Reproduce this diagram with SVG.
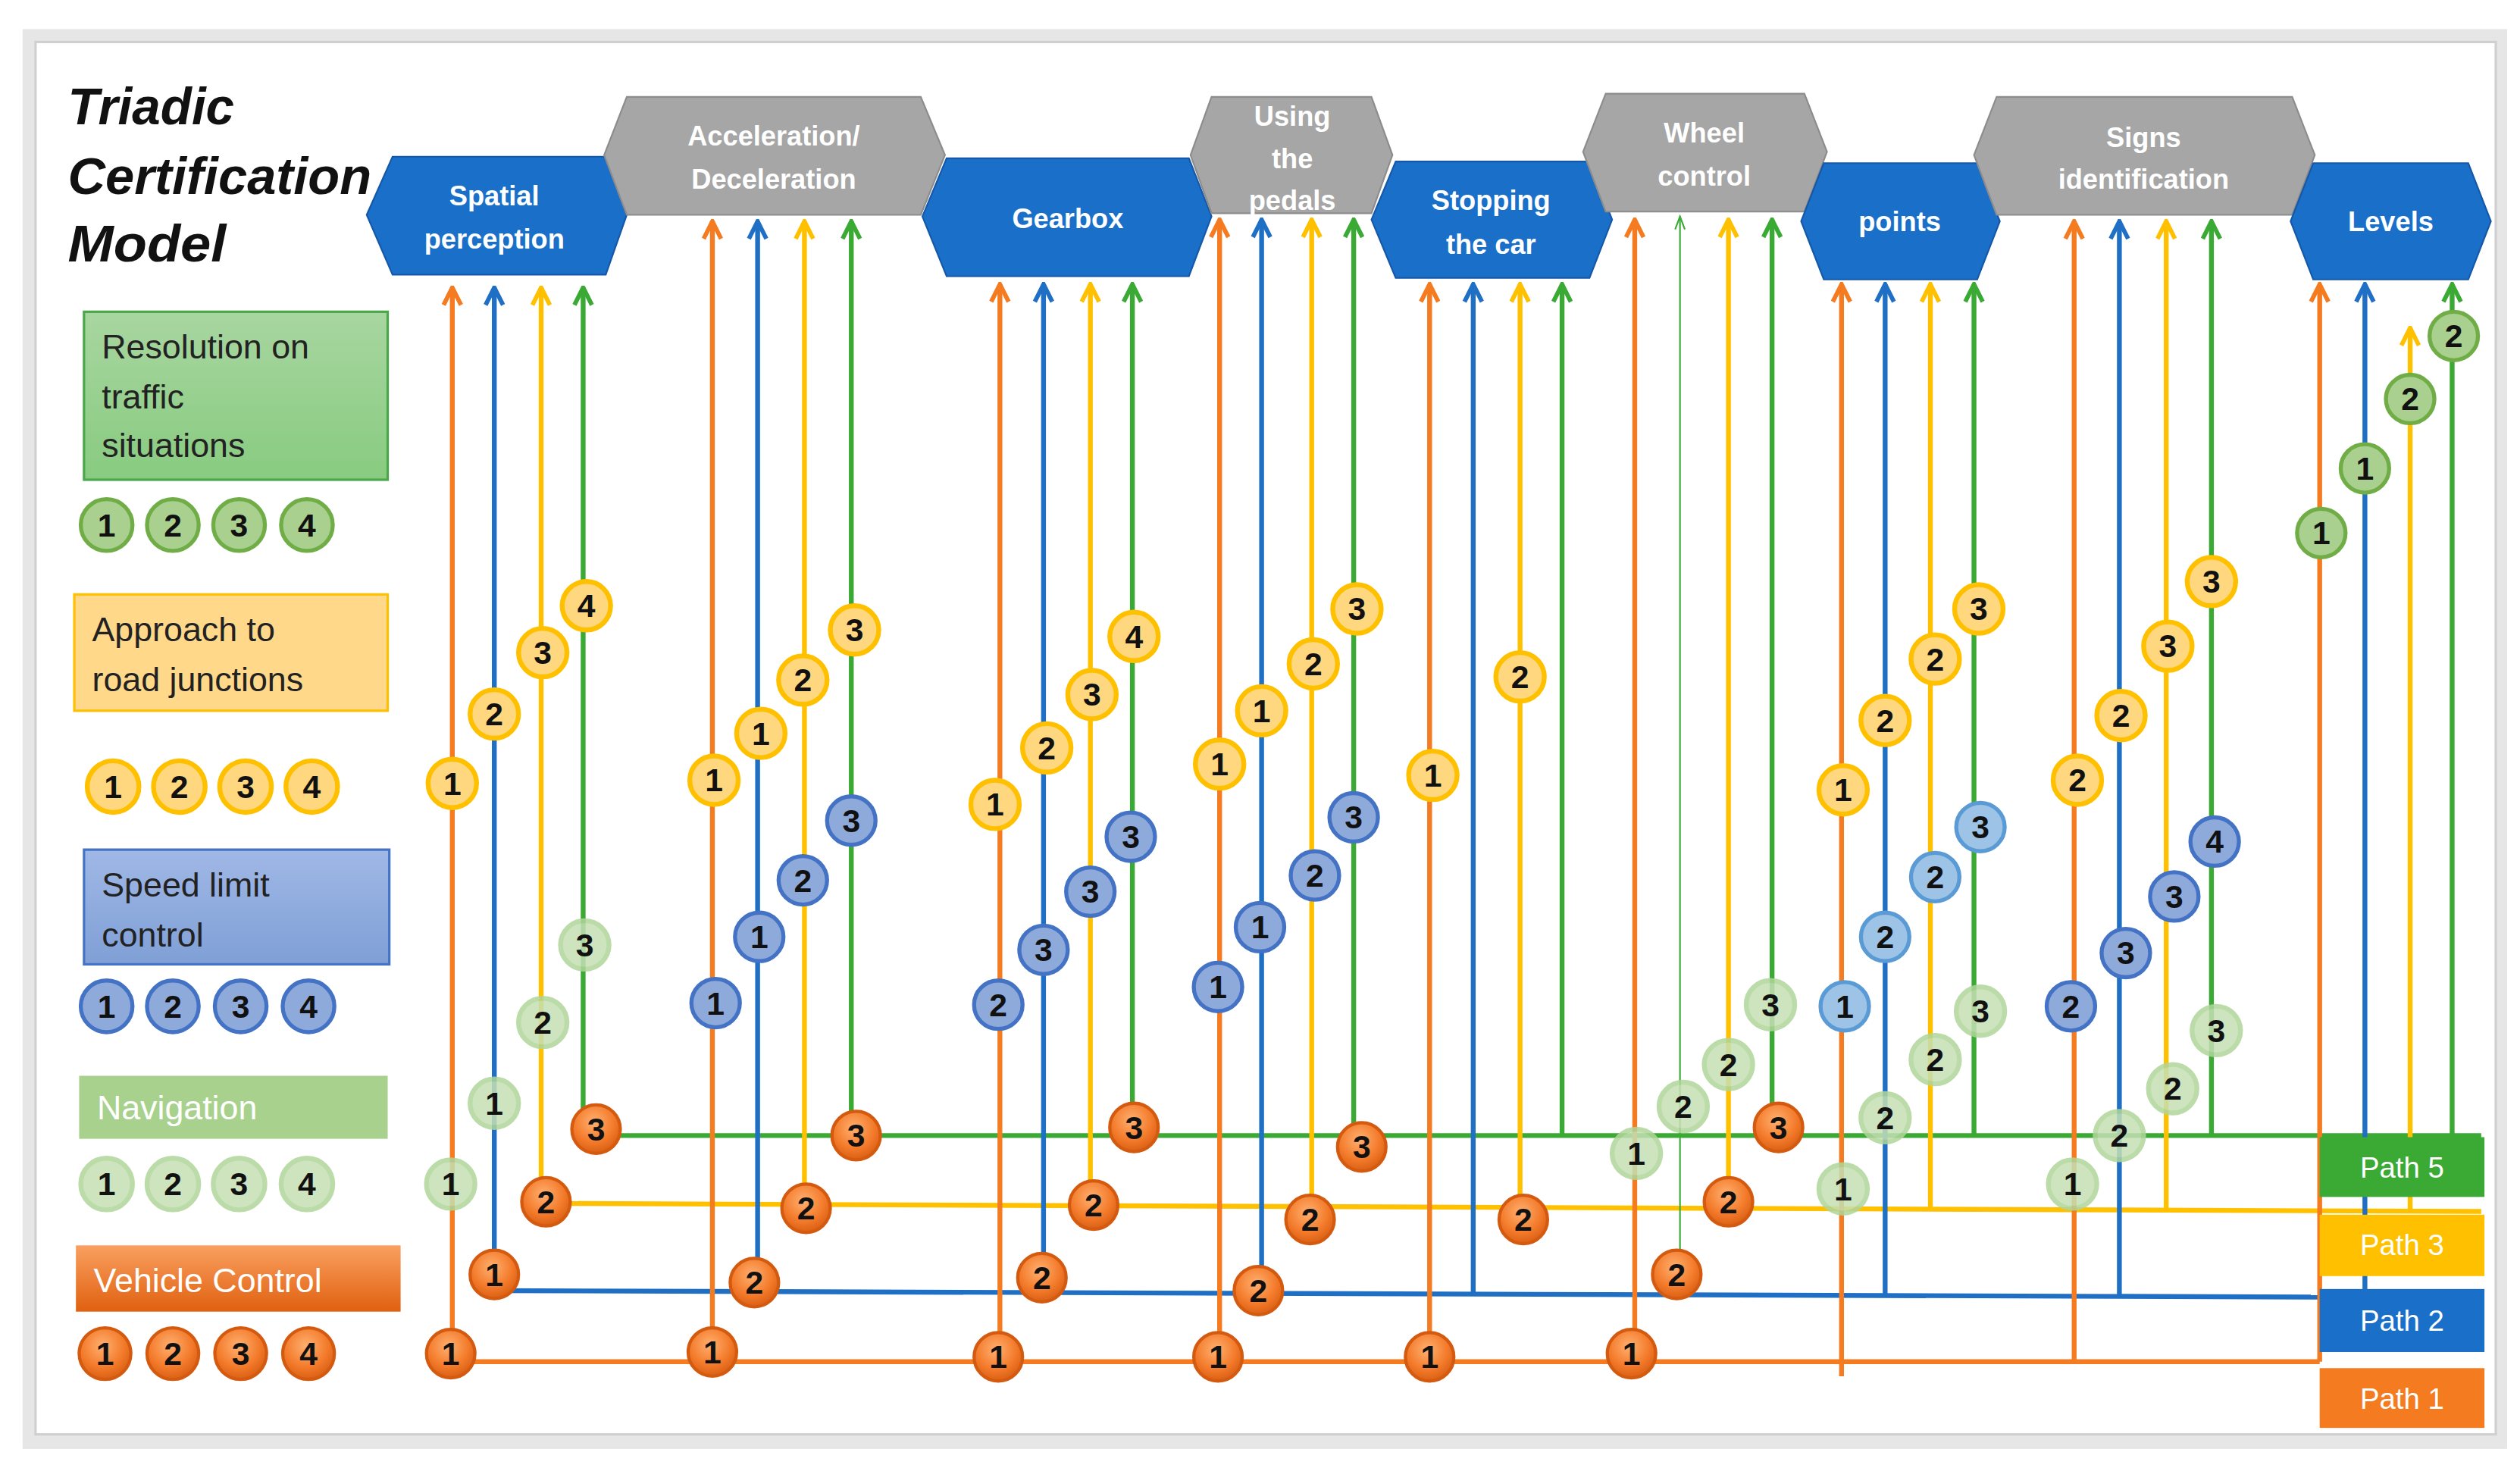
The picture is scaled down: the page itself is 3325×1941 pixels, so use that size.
<svg xmlns="http://www.w3.org/2000/svg" width="3325" height="1941" viewBox="0 0 3325 1941">
<defs>
<style>
.t{font-family:"Liberation Sans",Arial,sans-serif}
.hx{font-family:"Liberation Sans",Arial,sans-serif;font-weight:bold;font-size:17px;fill:#fff;text-anchor:middle}
.lg{font-family:"Liberation Sans",Arial,sans-serif;font-size:21px;fill:#222}
.lw{font-family:"Liberation Sans",Arial,sans-serif;font-size:21px;fill:#fff}
.d{font-family:"Liberation Sans",Arial,sans-serif;font-weight:bold;font-size:20px;fill:#111;text-anchor:middle}
.pt{font-family:"Liberation Sans",Arial,sans-serif;font-size:18px;fill:#fff;text-anchor:middle}
.hb{fill:#1a6fc9;stroke:#1558a8;stroke-width:1}
.hg{fill:#a6a6a6;stroke:#8c8c8c;stroke-width:1}
.o circle{fill:url(#og);stroke:#d45a10;stroke-width:2}
.y circle{fill:#ffd77f;stroke:#ffc000;stroke-width:3}
.b circle{fill:#8eaadb;stroke:#4472c4;stroke-width:2.5}
.lb circle{fill:#9dc3e6;stroke:#5b9bd5;stroke-width:2.5}
.g circle{fill:#a9d08e;stroke:#70ad47;stroke-width:2.5}
.n circle{fill:#c5e0b4;stroke:#b0d69a;stroke-width:3;opacity:0.85}
.co{stroke:#f47b20;stroke-width:3;fill:none}
.cb{stroke:#1f6fc5;stroke-width:3;fill:none}
.cy{stroke:#ffc000;stroke-width:3;fill:none}
.cg{stroke:#3aaa35;stroke-width:3;fill:none}
.ao{marker-end:url(#mo)}.ab{marker-end:url(#mb)}.ay{marker-end:url(#my)}.ag{marker-end:url(#mg)}
</style>
<radialGradient id="og" cx="0.45" cy="0.35" r="0.7"><stop offset="0" stop-color="#ffb070"/><stop offset="0.6" stop-color="#f37a2a"/><stop offset="1" stop-color="#d45a10"/></radialGradient>
<linearGradient id="vg" x1="0" y1="0" x2="0" y2="1"><stop offset="0" stop-color="#f9a060"/><stop offset="1" stop-color="#e0600f"/></linearGradient>
<linearGradient id="rg" x1="0" y1="0" x2="0" y2="1"><stop offset="0" stop-color="#a8d6a0"/><stop offset="1" stop-color="#88cb80"/></linearGradient>
<linearGradient id="sg" x1="0" y1="0" x2="0" y2="1"><stop offset="0" stop-color="#a0b8e6"/><stop offset="1" stop-color="#7f9fd6"/></linearGradient>
<marker id="mo" viewBox="0 0 10 10" refX="9" refY="5" markerWidth="4.5" markerHeight="4.5" orient="auto"><path d="M1,1 L9,5 L1,9" fill="none" stroke="#f47b20" stroke-width="2"/></marker>
<marker id="mb" viewBox="0 0 10 10" refX="9" refY="5" markerWidth="4.5" markerHeight="4.5" orient="auto"><path d="M1,1 L9,5 L1,9" fill="none" stroke="#1f6fc5" stroke-width="2"/></marker>
<marker id="my" viewBox="0 0 10 10" refX="9" refY="5" markerWidth="4.5" markerHeight="4.5" orient="auto"><path d="M1,1 L9,5 L1,9" fill="none" stroke="#ffc000" stroke-width="2"/></marker>
<marker id="mg" viewBox="0 0 10 10" refX="9" refY="5" markerWidth="4.5" markerHeight="4.5" orient="auto"><path d="M1,1 L9,5 L1,9" fill="none" stroke="#3aaa35" stroke-width="2"/></marker>
<marker id="mt" viewBox="0 0 10 10" refX="9" refY="5" markerWidth="10" markerHeight="10" orient="auto"><path d="M1,2 L9,5 L1,8" fill="none" stroke="#3aaa35" stroke-width="1"/></marker>
</defs>
<rect width="3325" height="1941" fill="#fff"/>
<g transform="scale(2.1314)">
<rect x="14" y="18" width="1538" height="879" fill="#e6e6e6"/>
<rect x="22" y="26" width="1523" height="862" fill="#fff" stroke="#d0d0d0" stroke-width="1.5"/>

<g id="title" class="t" font-style="italic" font-weight="bold" font-size="32" fill="#111">
<text x="42" y="77" textLength="103" lengthAdjust="spacingAndGlyphs">Triadic</text>
<text x="42" y="120" textLength="188" lengthAdjust="spacingAndGlyphs">Certification</text>
<text x="42" y="162" textLength="98" lengthAdjust="spacingAndGlyphs">Model</text>
</g>

<g id="legend-resolution"><rect x="52" y="193" width="188" height="104" fill="url(#rg)" stroke="#4aa84a" stroke-width="1.5"/>
<text class="lg" x="63" y="222">Resolution on</text><text class="lg" x="63" y="253">traffic</text><text class="lg" x="63" y="283">situations</text></g>
<g id="legend-junctions"><rect x="46" y="368" width="194" height="72" fill="#ffd88a" stroke="#ffc000" stroke-width="1.5"/>
<text class="lg" x="57" y="397">Approach to</text><text class="lg" x="57" y="428">road junctions</text></g>
<g id="legend-speed"><rect x="52" y="526" width="189" height="71" fill="url(#sg)" stroke="#4472c4" stroke-width="1.5"/>
<text class="lg" x="63" y="555">Speed limit</text><text class="lg" x="63" y="586">control</text></g>
<g id="legend-navigation"><rect x="49" y="666" width="191" height="39" fill="#a9d18e"/>
<text class="lw" x="60" y="693">Navigation</text></g>
<g id="legend-vehicle"><rect x="47" y="771" width="201" height="41" fill="url(#vg)"/>
<text class="lw" x="58" y="800">Vehicle Control</text></g>

<g id="hex-spatial"><polygon class="hb" points="227,133 243,97 375,97 388,133 375,170 243,170"/><text class="hx" x="306" y="127">Spatial</text><text class="hx" x="306" y="154">perception</text></g>
<g id="hex-accel"><polygon class="hg" points="374,96 388,60 570,60 585,96 570,133 388,133"/><text class="hx" x="479" y="90">Acceleration/</text><text class="hx" x="479" y="117">Deceleration</text></g>
<g id="hex-gearbox"><polygon class="hb" points="571,134 586,98 736,98 750,134 736,171 586,171"/><text class="hx" x="661" y="141">Gearbox</text></g>
<g id="hex-pedals"><polygon class="hg" points="737,96 750,60 849,60 862,96 849,132 750,132"/><text class="hx" x="800" y="78">Using</text><text class="hx" x="800" y="104">the</text><text class="hx" x="800" y="130">pedals</text></g>
<g id="hex-stopping"><polygon class="hb" points="849,136 864,100 984,100 998,136 984,172 864,172"/><text class="hx" x="923" y="130">Stopping</text><text class="hx" x="923" y="157">the car</text></g>
<g id="hex-wheel"><polygon class="hg" points="980,94 994,58 1117,58 1131,94 1117,131 994,131"/><text class="hx" x="1055" y="88">Wheel</text><text class="hx" x="1055" y="115">control</text></g>
<g id="hex-points"><polygon class="hb" points="1115,137 1129,101 1224,101 1238,137 1224,173 1129,173"/><text class="hx" x="1176" y="143">points</text></g>
<g id="hex-signs"><polygon class="hg" points="1222,96 1236,60 1419,60 1433,96 1419,133 1236,133"/><text class="hx" x="1327" y="91">Signs</text><text class="hx" x="1327" y="117">identification</text></g>
<g id="hex-levels"><polygon class="hb" points="1418,137 1432,101 1528,101 1542,137 1528,173 1432,173"/><text class="hx" x="1480" y="143">Levels</text></g>

<g id="connectors">
<path class="cg" d="M369,703 L1536,703"/>
<path class="cy" d="M338,745 L1536,750"/>
<path class="cb" d="M306,799 L1436,803"/>
<path class="co" d="M279,843 L1436,843"/>
<path class="co ao" d="M280,843 V178"/><path class="cb ab" d="M306,799 V178"/><path class="cy ay" d="M335,747 V178"/><path class="cg ag" d="M361,703 V178"/>
<path class="co ao" d="M441,843 V137"/><path class="cb ab" d="M469,799 V137"/><path class="cy ay" d="M498,747 V137"/><path class="cg ag" d="M527,703 V137"/>
<path class="co ao" d="M619,843 V176"/><path class="cb ab" d="M646,799 V176"/><path class="cy ay" d="M675,747 V176"/><path class="cg ag" d="M701,703 V176"/>
<path class="co ao" d="M755,843 V136"/><path class="cb ab" d="M781,799 V136"/><path class="cy ay" d="M812,747 V136"/><path class="cg ag" d="M838,703 V136"/>
<path class="co ao" d="M885,843 V176"/><path class="cb ab" d="M912,800 V176"/><path class="cy ay" d="M941,748 V176"/><path class="cg ag" d="M967,703 V176"/>
<path class="co ao" d="M1012,843 V136"/><path d="M1040,775 V134" stroke="#3aaa35" stroke-width="1" fill="none" marker-end="url(#mt)"/><path class="cy ay" d="M1070,748 V136"/><path class="cg ag" d="M1097,703 V136"/>
<path class="co ao" d="M1140,852 V176"/><path class="cb ab" d="M1167,801 V176"/><path class="cy ay" d="M1195,749 V176"/><path class="cg ag" d="M1222,703 V176"/>
<path class="co ao" d="M1284,843 V137"/><path class="cb ab" d="M1312,802 V137"/><path class="cy ay" d="M1341,749 V137"/><path class="cg ag" d="M1369,703 V137"/>
<path class="co ao" d="M1436,843 V176"/><path class="cb ab" d="M1464,803 V176"/><path class="cy ay" d="M1492,750 V203"/><path class="cg ag" d="M1518,703 V176"/>
</g>

<g id="path5"><rect x="1436" y="704" width="102" height="37" fill="#3aaa35"/><text class="pt" x="1487" y="729">Path 5</text></g>
<g id="path3"><rect x="1436" y="752" width="102" height="38" fill="#ffc000"/><text class="pt" x="1487" y="777">Path 3</text></g>
<g id="path2"><rect x="1436" y="798" width="102" height="39" fill="#1a6fc9"/><text class="pt" x="1487" y="824">Path 2</text></g>
<g id="path1"><rect x="1436" y="847" width="102" height="37" fill="#f47b20"/><text class="pt" x="1487" y="872">Path 1</text></g>

<g id="legend-badges">
<g class="g" transform="translate(66,325)"><circle r="16"/><text class="d" y="7">1</text></g>
<g class="g" transform="translate(107,325)"><circle r="16"/><text class="d" y="7">2</text></g>
<g class="g" transform="translate(148,325)"><circle r="16"/><text class="d" y="7">3</text></g>
<g class="g" transform="translate(190,325)"><circle r="16"/><text class="d" y="7">4</text></g>
<g class="y" transform="translate(70,487)"><circle r="16"/><text class="d" y="7">1</text></g>
<g class="y" transform="translate(111,487)"><circle r="16"/><text class="d" y="7">2</text></g>
<g class="y" transform="translate(152,487)"><circle r="16"/><text class="d" y="7">3</text></g>
<g class="y" transform="translate(193,487)"><circle r="16"/><text class="d" y="7">4</text></g>
<g class="b" transform="translate(66,623)"><circle r="16"/><text class="d" y="7">1</text></g>
<g class="b" transform="translate(107,623)"><circle r="16"/><text class="d" y="7">2</text></g>
<g class="b" transform="translate(149,623)"><circle r="16"/><text class="d" y="7">3</text></g>
<g class="b" transform="translate(191,623)"><circle r="16"/><text class="d" y="7">4</text></g>
<g class="n" transform="translate(66,733)"><circle r="16"/><text class="d" y="7">1</text></g>
<g class="n" transform="translate(107,733)"><circle r="16"/><text class="d" y="7">2</text></g>
<g class="n" transform="translate(148,733)"><circle r="16"/><text class="d" y="7">3</text></g>
<g class="n" transform="translate(190,733)"><circle r="16"/><text class="d" y="7">4</text></g>
<g class="o" transform="translate(65,838)"><circle r="16"/><text class="d" y="7">1</text></g>
<g class="o" transform="translate(107,838)"><circle r="16"/><text class="d" y="7">2</text></g>
<g class="o" transform="translate(149,838)"><circle r="16"/><text class="d" y="7">3</text></g>
<g class="o" transform="translate(191,838)"><circle r="16"/><text class="d" y="7">4</text></g>
</g>

<g id="badges">
<g class="o" transform="translate(279,838)"><circle r="15"/><text class="d" y="7">1</text></g>
<g class="o" transform="translate(306,789)"><circle r="15"/><text class="d" y="7">1</text></g>
<g class="o" transform="translate(338,744)"><circle r="15"/><text class="d" y="7">2</text></g>
<g class="o" transform="translate(369,699)"><circle r="15"/><text class="d" y="7">3</text></g>
<g class="y" transform="translate(280,485)"><circle r="15"/><text class="d" y="7">1</text></g>
<g class="y" transform="translate(306,442)"><circle r="15"/><text class="d" y="7">2</text></g>
<g class="y" transform="translate(336,404)"><circle r="15"/><text class="d" y="7">3</text></g>
<g class="y" transform="translate(363,375)"><circle r="15"/><text class="d" y="7">4</text></g>
<g class="n" transform="translate(279,733)"><circle r="15"/><text class="d" y="7">1</text></g>
<g class="n" transform="translate(306,683)"><circle r="15"/><text class="d" y="7">1</text></g>
<g class="n" transform="translate(336,633)"><circle r="15"/><text class="d" y="7">2</text></g>
<g class="n" transform="translate(362,585)"><circle r="15"/><text class="d" y="7">3</text></g>

<g class="o" transform="translate(441,837)"><circle r="15"/><text class="d" y="7">1</text></g>
<g class="o" transform="translate(467,794)"><circle r="15"/><text class="d" y="7">2</text></g>
<g class="o" transform="translate(499,748)"><circle r="15"/><text class="d" y="7">2</text></g>
<g class="o" transform="translate(530,703)"><circle r="15"/><text class="d" y="7">3</text></g>
<g class="y" transform="translate(442,483)"><circle r="15"/><text class="d" y="7">1</text></g>
<g class="y" transform="translate(471,454)"><circle r="15"/><text class="d" y="7">1</text></g>
<g class="y" transform="translate(497,421)"><circle r="15"/><text class="d" y="7">2</text></g>
<g class="y" transform="translate(529,390)"><circle r="15"/><text class="d" y="7">3</text></g>
<g class="b" transform="translate(443,621)"><circle r="15"/><text class="d" y="7">1</text></g>
<g class="b" transform="translate(470,580)"><circle r="15"/><text class="d" y="7">1</text></g>
<g class="b" transform="translate(497,545)"><circle r="15"/><text class="d" y="7">2</text></g>
<g class="b" transform="translate(527,508)"><circle r="15"/><text class="d" y="7">3</text></g>

<g class="o" transform="translate(618,840)"><circle r="15"/><text class="d" y="7">1</text></g>
<g class="o" transform="translate(645,791)"><circle r="15"/><text class="d" y="7">2</text></g>
<g class="o" transform="translate(677,746)"><circle r="15"/><text class="d" y="7">2</text></g>
<g class="o" transform="translate(702,698)"><circle r="15"/><text class="d" y="7">3</text></g>
<g class="y" transform="translate(616,498)"><circle r="15"/><text class="d" y="7">1</text></g>
<g class="y" transform="translate(648,463)"><circle r="15"/><text class="d" y="7">2</text></g>
<g class="y" transform="translate(676,430)"><circle r="15"/><text class="d" y="7">3</text></g>
<g class="y" transform="translate(702,394)"><circle r="15"/><text class="d" y="7">4</text></g>
<g class="b" transform="translate(618,622)"><circle r="15"/><text class="d" y="7">2</text></g>
<g class="b" transform="translate(646,588)"><circle r="15"/><text class="d" y="7">3</text></g>
<g class="b" transform="translate(675,552)"><circle r="15"/><text class="d" y="7">3</text></g>
<g class="b" transform="translate(700,518)"><circle r="15"/><text class="d" y="7">3</text></g>

<g class="o" transform="translate(754,840)"><circle r="15"/><text class="d" y="7">1</text></g>
<g class="o" transform="translate(779,799)"><circle r="15"/><text class="d" y="7">2</text></g>
<g class="o" transform="translate(811,755)"><circle r="15"/><text class="d" y="7">2</text></g>
<g class="o" transform="translate(843,710)"><circle r="15"/><text class="d" y="7">3</text></g>
<g class="y" transform="translate(755,473)"><circle r="15"/><text class="d" y="7">1</text></g>
<g class="y" transform="translate(781,440)"><circle r="15"/><text class="d" y="7">1</text></g>
<g class="y" transform="translate(813,411)"><circle r="15"/><text class="d" y="7">2</text></g>
<g class="y" transform="translate(840,377)"><circle r="15"/><text class="d" y="7">3</text></g>
<g class="b" transform="translate(754,611)"><circle r="15"/><text class="d" y="7">1</text></g>
<g class="b" transform="translate(780,574)"><circle r="15"/><text class="d" y="7">1</text></g>
<g class="b" transform="translate(814,542)"><circle r="15"/><text class="d" y="7">2</text></g>
<g class="b" transform="translate(838,506)"><circle r="15"/><text class="d" y="7">3</text></g>

<g class="o" transform="translate(885,840)"><circle r="15"/><text class="d" y="7">1</text></g>
<g class="o" transform="translate(943,755)"><circle r="15"/><text class="d" y="7">2</text></g>
<g class="y" transform="translate(887,480)"><circle r="15"/><text class="d" y="7">1</text></g>
<g class="y" transform="translate(941,419)"><circle r="15"/><text class="d" y="7">2</text></g>

<g class="o" transform="translate(1010,838)"><circle r="15"/><text class="d" y="7">1</text></g>
<g class="o" transform="translate(1038,789)"><circle r="15"/><text class="d" y="7">2</text></g>
<g class="o" transform="translate(1070,744)"><circle r="15"/><text class="d" y="7">2</text></g>
<g class="o" transform="translate(1101,698)"><circle r="15"/><text class="d" y="7">3</text></g>
<g class="n" transform="translate(1013,714)"><circle r="15"/><text class="d" y="7">1</text></g>
<g class="n" transform="translate(1042,685)"><circle r="15"/><text class="d" y="7">2</text></g>
<g class="n" transform="translate(1070,659)"><circle r="15"/><text class="d" y="7">2</text></g>
<g class="n" transform="translate(1096,622)"><circle r="15"/><text class="d" y="7">3</text></g>

<g class="y" transform="translate(1141,489)"><circle r="15"/><text class="d" y="7">1</text></g>
<g class="y" transform="translate(1167,446)"><circle r="15"/><text class="d" y="7">2</text></g>
<g class="y" transform="translate(1198,408)"><circle r="15"/><text class="d" y="7">2</text></g>
<g class="y" transform="translate(1225,377)"><circle r="15"/><text class="d" y="7">3</text></g>
<g class="lb" transform="translate(1142,623)"><circle r="15"/><text class="d" y="7">1</text></g>
<g class="lb" transform="translate(1167,580)"><circle r="15"/><text class="d" y="7">2</text></g>
<g class="lb" transform="translate(1198,543)"><circle r="15"/><text class="d" y="7">2</text></g>
<g class="lb" transform="translate(1226,512)"><circle r="15"/><text class="d" y="7">3</text></g>
<g class="n" transform="translate(1141,736)"><circle r="15"/><text class="d" y="7">1</text></g>
<g class="n" transform="translate(1167,692)"><circle r="15"/><text class="d" y="7">2</text></g>
<g class="n" transform="translate(1198,656)"><circle r="15"/><text class="d" y="7">2</text></g>
<g class="n" transform="translate(1226,626)"><circle r="15"/><text class="d" y="7">3</text></g>

<g class="y" transform="translate(1286,483)"><circle r="15"/><text class="d" y="7">2</text></g>
<g class="y" transform="translate(1313,443)"><circle r="15"/><text class="d" y="7">2</text></g>
<g class="y" transform="translate(1342,400)"><circle r="15"/><text class="d" y="7">3</text></g>
<g class="y" transform="translate(1369,360)"><circle r="15"/><text class="d" y="7">3</text></g>
<g class="b" transform="translate(1282,623)"><circle r="15"/><text class="d" y="7">2</text></g>
<g class="b" transform="translate(1316,590)"><circle r="15"/><text class="d" y="7">3</text></g>
<g class="b" transform="translate(1346,555)"><circle r="15"/><text class="d" y="7">3</text></g>
<g class="b" transform="translate(1371,521)"><circle r="15"/><text class="d" y="7">4</text></g>
<g class="n" transform="translate(1283,733)"><circle r="15"/><text class="d" y="7">1</text></g>
<g class="n" transform="translate(1312,703)"><circle r="15"/><text class="d" y="7">2</text></g>
<g class="n" transform="translate(1345,674)"><circle r="15"/><text class="d" y="7">2</text></g>
<g class="n" transform="translate(1372,638)"><circle r="15"/><text class="d" y="7">3</text></g>

<g class="g" transform="translate(1437,330)"><circle r="15"/><text class="d" y="7">1</text></g>
<g class="g" transform="translate(1464,290)"><circle r="15"/><text class="d" y="7">1</text></g>
<g class="g" transform="translate(1492,247)"><circle r="15"/><text class="d" y="7">2</text></g>
<g class="g" transform="translate(1519,208)"><circle r="15"/><text class="d" y="7">2</text></g>
</g>
</g>
</svg>
